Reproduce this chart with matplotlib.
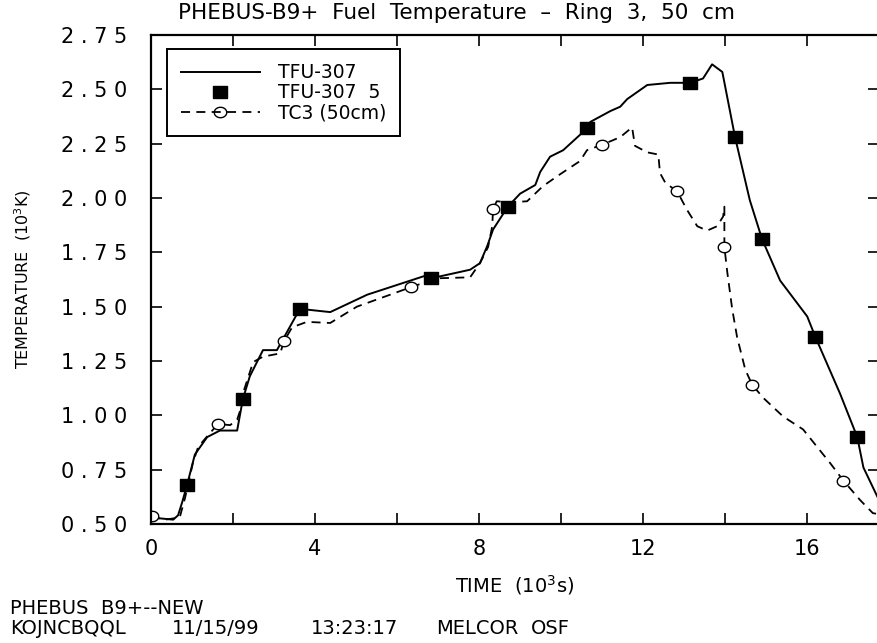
import numpy as np
import matplotlib.pyplot as plt

# TFU-307 fuel temperature (time in 10^3 s, temperature in 10^3 K)
tfu_t = [0.0, 0.54, 0.66, 0.76, 0.88, 1.07, 1.37, 1.68, 2.10, 2.24, 2.41, 2.73,
         3.07, 3.63, 4.37, 5.27, 6.73, 6.82, 7.78, 8.02, 8.20, 8.34, 8.70, 9.00,
         9.37, 9.49, 9.73, 10.05, 10.63, 10.71, 11.20, 11.44, 11.61, 12.10, 12.66,
         13.15, 13.46, 13.68, 13.93, 14.24, 14.60, 14.90, 15.34, 16.00, 16.20,
         16.80, 17.22, 17.37, 17.75]
tfu_T = [0.53, 0.52, 0.54, 0.60, 0.68, 0.82, 0.90, 0.93, 0.93, 1.075, 1.18, 1.30,
         1.30, 1.49, 1.475, 1.555, 1.645, 1.63, 1.67, 1.70, 1.78, 1.855, 1.96, 2.02,
         2.06, 2.12, 2.19, 2.22, 2.32, 2.35, 2.40, 2.42, 2.455, 2.52, 2.53,
         2.53, 2.55, 2.615, 2.58, 2.28, 1.99, 1.81, 1.62, 1.455, 1.36,
         1.10, 0.90, 0.76, 0.61]

# TFU-307 sampled points (square symbols)
sym_t = [0.88, 2.24, 3.63, 6.82, 8.70, 10.63, 13.15, 14.24, 14.90, 16.20, 17.22]
sym_T = [0.68, 1.075, 1.49, 1.63, 1.96, 2.32, 2.53, 2.28, 1.81, 1.36, 0.90]

# TC3 thermocouple at 50 cm
tc3_t = [0.0, 0.34, 0.70, 0.83, 0.95, 1.02, 1.15, 1.63, 1.93, 2.10, 2.17, 2.24,
         2.49, 2.73, 3.15, 3.24, 3.44, 3.80, 4.37, 5.02, 5.83, 6.34, 6.73, 6.88,
         7.78, 8.02, 8.22, 8.32, 8.34, 8.43, 8.76, 9.17, 9.56, 9.98, 10.46, 10.63,
         11.00, 11.44, 11.73, 11.80, 12.10, 12.37, 12.41, 12.54, 12.83, 13.07, 13.32,
         13.56, 13.80, 13.95, 13.98, 13.98, 14.05, 14.17, 14.29, 14.49, 14.66, 14.93,
         15.41, 15.90, 16.24, 16.56, 16.88, 17.29, 17.60, 17.75]
tc3_T = [0.535, 0.52, 0.53, 0.62, 0.72, 0.78, 0.855, 0.96, 0.955, 0.98, 1.02, 1.10,
         1.245, 1.27, 1.285, 1.34, 1.405, 1.43, 1.425, 1.50, 1.555, 1.59, 1.615, 1.63,
         1.635, 1.70, 1.775, 1.87, 1.95, 1.985, 1.98, 1.985, 2.055, 2.11, 2.17, 2.22,
         2.245, 2.28, 2.325, 2.24, 2.21, 2.20, 2.115, 2.07, 2.03, 1.945, 1.87,
         1.85, 1.87, 1.915, 1.96, 1.775, 1.66, 1.49, 1.36, 1.21, 1.14, 1.08,
         0.995, 0.935, 0.855, 0.78, 0.70, 0.61, 0.55, 0.545]

tc3_sym_t = [0.03, 1.63, 3.24, 6.34, 8.34, 11.00, 12.83, 13.98, 14.66, 16.88]
tc3_sym_T = [0.535, 0.96, 1.34, 1.59, 1.95, 2.245, 2.03, 1.775, 1.14, 0.70]

xticks = [0, 2, 4, 6, 8, 10, 12, 14, 16]
xticklabels = ["0", "", "4", "", "8", "", "12", "", "16"]
yticks = [0.50, 0.75, 1.00, 1.25, 1.50, 1.75, 2.00, 2.25, 2.50, 2.75]
yticklabels = [" ".join(f"{v:.2f}") for v in yticks]

plt.rcParams['font.family'] = 'DejaVu Sans'

# plotter-style symbols: slightly flattened square and circle
rect = [(-1.2, -1), (1.2, -1), (1.2, 1), (-1.2, 1), (-1.2, -1)]
th = np.linspace(0, 2 * np.pi, 40)
oval = list(zip(1.2 * np.cos(th), np.sin(th)))
dash = (0, (5, 3.5))

fig = plt.figure(figsize=(8.78, 6.43), dpi=100)
ax = fig.add_axes([151 / 878, 119 / 643, 728 / 878, 489 / 643])

ax.plot(tfu_t, tfu_T, color="black", lw=1.4, label="TFU-307")
ax.plot(sym_t, sym_T, ls="none", marker=rect, ms=10, color="black",
        label="TFU-307  5")
ax.plot(tc3_t, tc3_T, color="black", lw=1.3, ls=dash)
ax.plot(tc3_sym_t, tc3_sym_T, ls="none", marker=oval, ms=9, mfc="white",
        mec="black", mew=1.0)
# legend entry for the dashed curve with its symbol
ax.plot([], [], color="black", lw=1.3, ls=dash, marker=oval, ms=9, mfc="none",
        mec="black", label="TC3 (50cm)")

ax.set_xlim(0, 17.75)
ax.set_ylim(0.5, 2.75)
ax.set_xticks(xticks)
ax.set_xticklabels(xticklabels, fontsize=15)
ax.set_yticks(yticks)
ax.set_yticklabels(yticklabels, fontsize=15)
ax.tick_params(axis="both", direction="in", length=8, width=1.2, top=True, right=True)
ax.tick_params(axis="x", pad=11)
ax.tick_params(axis="y", pad=17)
for side in ["left", "bottom", "top"]:
    ax.spines[side].set_linewidth(1.6)
ax.spines["right"].set_visible(False)

ax.set_xlabel("TIME  (10$^3$s)", fontsize=14, labelpad=10)
ax.set_ylabel("TEMPERATURE  (10$^3$K)", fontsize=11.5, labelpad=20)
fig.text(457 / 878, 1 - 13 / 643,
         "PHEBUS-B9+  Fuel  Temperature  \u2013  Ring  3,  50  cm",
         fontsize=15.5, ha="center", va="center")

handles, labels = ax.get_legend_handles_labels()
leg = ax.legend(handles, labels, loc="upper left", bbox_to_anchor=(0.022, 0.971),
                borderaxespad=0, fontsize=13.5, handlelength=4.2,
                handletextpad=0.95, borderpad=0.75, labelspacing=0.05,
                fancybox=False, framealpha=1, edgecolor="black")
leg.get_frame().set_linewidth(1.4)

fig.text(10 / 878, 1 - 608 / 643, "PHEBUS  B9+--NEW", fontsize=14, va="center")
footer = [("KOJNCBQQL", 10), ("11/15/99", 172), ("13:23:17", 311),
          ("MELCOR", 436), ("OSF", 531)]
for word, px in footer:
    fig.text(px / 878, 1 - 628 / 643, word, fontsize=14, va="center")

plt.savefig("out.png", dpi=100)
